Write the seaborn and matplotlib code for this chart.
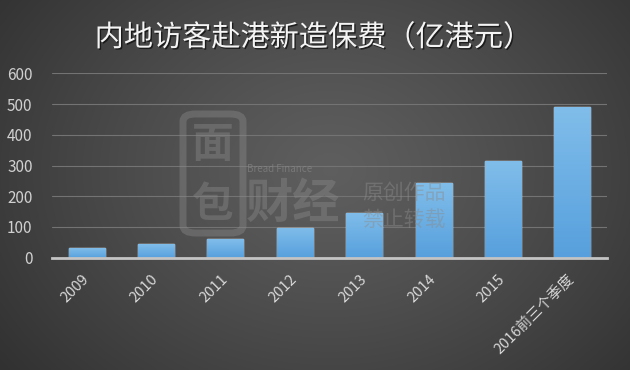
import numpy as np
import pandas as pd
import matplotlib
matplotlib.use('Agg')
import matplotlib.pyplot as plt
import seaborn as sns
from matplotlib.patches import FancyBboxPatch
from matplotlib.colors import LinearSegmentedColormap
import matplotlib.patheffects as pe

categories = ['2009', '2010', '2011', '2012', '2013', '2014', '2015', '2016前三个季度']
values = [31, 45, 60, 98, 147, 244, 315, 490]
y_ticks = [0, 100, 200, 300, 400, 500, 600]
title = '内地访客赴港新造保费（亿港元）'

sns.set_theme(style='dark')
plt.rcParams['font.family'] = ['Noto Sans CJK SC', 'DejaVu Sans']

W, H = 630, 370
fig = plt.figure(figsize=(6.3, 3.7), dpi=100)

# radial dark-gray background
bg = fig.add_axes([0, 0, 1, 1], zorder=-10)
yy, xx = np.mgrid[0:H, 0:W]
r = np.sqrt(((xx - 330) / 420.0) ** 2 + ((yy - 170) / 330.0) ** 2)
g = np.clip(0.37 - 0.18 * r ** 1.2, 0.17, 1)
bg.imshow(np.dstack([g, g, g]), aspect='auto', extent=[0, 1, 0, 1], origin='upper')
bg.axis('off')

# watermark
wm = '#8c8c8c'
fig.patches.append(FancyBboxPatch((183 / W, 1 - 233 / H), 60 / W, 119 / H,
                                  boxstyle='round,pad=0,rounding_size=0.02',
                                  transform=fig.transFigure, fill=False,
                                  ec=wm, lw=5, alpha=0.4, zorder=1))
fig.text(213 / W, 1 - 145 / H, '面', fontsize=30, color=wm, alpha=0.4, ha='center', va='center', weight='bold')
fig.text(213 / W, 1 - 205 / H, '包', fontsize=30, color=wm, alpha=0.4, ha='center', va='center', weight='bold')
fig.text(293 / W, 1 - 204 / H, '财经', fontsize=34, color=wm, alpha=0.4, ha='center', va='center', weight='bold')
fig.text(280 / W, 1 - 169 / H, 'Bread Finance', fontsize=7, color=wm, alpha=0.6, ha='center', va='center')
fig.text(404 / W, 1 - 193 / H, '原创作品', fontsize=15, color=wm, alpha=0.45, ha='center', va='center')
fig.text(404 / W, 1 - 220 / H, '禁止转载', fontsize=15, color=wm, alpha=0.45, ha='center', va='center')

ax = fig.add_axes([52 / W, 1 - 257.7 / H, (607 - 52) / W, (257.7 - 73.3) / H])
ax.patch.set_alpha(0)
df = pd.DataFrame({'cat': categories, 'val': values})
sns.barplot(data=df, x='cat', y='val', color='#64a9e4', width=0.52, saturation=1, ax=ax, zorder=3)

cmap = LinearSegmentedColormap.from_list('bar', ['#57a0dd', '#80bdea'])
grad = np.linspace(1, 0, 100).reshape(-1, 1)
for p in list(ax.patches):
    x0, y0, w, h = p.get_x(), p.get_y(), p.get_width(), p.get_height()
    im = ax.imshow(grad, extent=[x0, x0 + w, y0, y0 + h], aspect='auto', cmap=cmap,
                   zorder=4, origin='upper')
    im.set_clip_path(p)

ax.set_xlim(-0.5, len(categories) - 0.5)
ax.set_ylim(0, 600)
ax.set_yticks(y_ticks)
ax.set_xlabel('')
ax.set_ylabel('')
ax.yaxis.grid(True, color='#737373', lw=0.8)
ax.xaxis.grid(False)
ax.set_axisbelow(True)
for s in ['left', 'right', 'top']:
    ax.spines[s].set_visible(False)
ax.spines['bottom'].set_color('#c4c4c4')
ax.spines['bottom'].set_linewidth(2)
ax.spines['bottom'].set_zorder(5)
ax.tick_params(axis='y', length=0, pad=14, labelsize=11, labelcolor='#d0d0d0')
ax.tick_params(axis='x', length=0, pad=14, labelsize=10.5, labelcolor='#d8d8d8')
for lbl in ax.get_xticklabels():
    lbl.set_rotation(45)
    lbl.set_ha('right')
    lbl.set_va('center')
    lbl.set_rotation_mode('anchor')
for lbl in ax.get_yticklabels():
    lbl.set_ha('right')

fig.text(0.497, 1 - 38 / H, title, ha='center', va='center', fontsize=21, color='#f4f4f4',
         path_effects=[pe.withSimplePatchShadow(offset=(1, -1), shadow_rgbFace='black', alpha=0.6)])

fig.savefig('out.png', dpi=100)
